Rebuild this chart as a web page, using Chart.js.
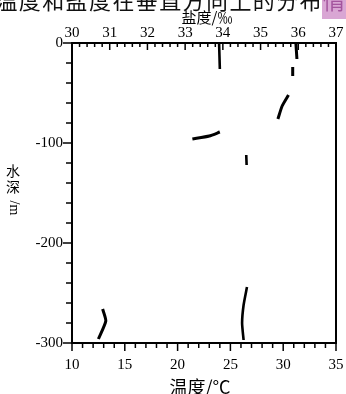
<!DOCTYPE html>
<html>
<head>
<meta charset="utf-8">
<script src="https://cdn.jsdelivr.net/npm/chart.js@4.4.0/dist/chart.umd.min.js"></script>
<style>
html,body{margin:0;padding:0;background:#fff}
#wrap{width:346px;height:394px;position:relative}
</style>
</head>
<body>
<div id="wrap"><canvas id="profileChart"></canvas></div>
<script>
// visible pieces of the two profiles, null = gap in the printed curve
const tempDepth=[0,-16,null,-24,-33,null,-52,-63,-76,null,-89,-93,-96,null,-266,-278,-296];
const tempValue=[31.2,31.3,null,30.9,30.9,null,30.5,29.9,29.5,null,24.0,23.0,21.4,null,12.9,13.2,12.5];

const salDepth=[0,-26,null,-112,-122,null,-244,-262,-280,-297];
const salValue=[33.90,33.92,null,34.62,34.63,null,34.64,34.55,34.51,34.55];

const depthTicks=[0,-100,-200,-300];
const salTicks=[30,31,32,33,34,35,36,37];
const tempTicks=[10,15,20,25,30,35];

const serif='"Liberation Serif", "Times New Roman", serif';
const cjk='"Noto Sans CJK SC", sans-serif';

function pts(xs,ys){
  return xs.map((v,i)=>v===null?{x:null,y:null}:{x:v,y:ys[i]});
}

const marks={
  id:'marks',
  afterDraw(chart){
    const {ctx,chartArea:a,scales}=chart;
    const line=(x1,y1,x2,y2)=>{ctx.beginPath();ctx.moveTo(x1,y1);ctx.lineTo(x2,y2);ctx.stroke();};
    ctx.save();
    ctx.strokeStyle='#000';
    ctx.lineWidth=1.5;
    for(let v=0;v>=-300;v-=20){
      const y=scales.y.getPixelForValue(v);
      line(a.left-(v%100===0?9:6),y,a.left,y);
    }
    for(let i=0;i<=35;i++){
      const x=scales.xS.getPixelForValue(30+i*0.2);
      line(x,a.top,x,a.top+(i%5===0?7:4));
    }
    for(let v=10;v<=35;v++){
      const x=scales.xT.getPixelForValue(v);
      line(x,a.bottom,x,a.bottom+(v%5===0?8:5));
    }
    ctx.lineWidth=2;
    line(a.right,a.top,a.right,a.bottom);

    // axis titles
    ctx.fillStyle='#000';
    ctx.textAlign='center';
    ctx.textBaseline='middle';
    ctx.font='15px '+cjk;
    ctx.fillText('盐度/‰',207,17);
    ctx.font='18px '+cjk;
    ctx.textBaseline='top';
    ctx.fillText('温度/°C',200,378);
    ctx.textBaseline='middle';
    ctx.font='14px '+cjk;
    ctx.fillText('水',13,171);
    ctx.fillText('深',13,187);
    ctx.save();
    ctx.translate(14,208);
    ctx.rotate(Math.PI/2);
    ctx.font='14px '+serif;
    ctx.fillText('/m',0,0);
    ctx.restore();

    // cut-off caption at the top of the scan
    ctx.fillStyle='#d9a6d4';
    ctx.fillRect(322,0,24,19);
    const cap='温度和盐度在垂直方向上的分布情';
    ctx.font='22px '+cjk;
    for(let i=0;i<cap.length;i++){
      ctx.fillStyle=i===cap.length-1?'#a4559e':'#111';
      ctx.fillText(cap[i],334-(cap.length-1-i)*23.4,1);
    }
    ctx.restore();
  }
};

const fitX=h=>s=>{s.height=h;s.paddingLeft=0;s.paddingRight=10;};

new Chart(document.getElementById('profileChart'),{
  type:'scatter',
  data:{
    datasets:[
      {
        label:'温度',
        data:pts(tempValue,tempDepth),
        xAxisID:'xT',
        yAxisID:'y',
        showLine:true,
        spanGaps:false,
        borderColor:'#000',
        borderWidth:3,
        pointRadius:0,
        tension:0.2
      },
      {
        label:'盐度',
        data:pts(salValue,salDepth),
        xAxisID:'xS',
        yAxisID:'y',
        showLine:true,
        spanGaps:false,
        borderColor:'#000',
        borderWidth:2.6,
        pointRadius:0,
        tension:0.2
      }
    ]
  },
  options:{
    responsive:true,
    maintainAspectRatio:false,
    animation:false,
    layout:{padding:0},
    plugins:{legend:{display:false},tooltip:{enabled:false}},
    scales:{
      y:{
        type:'linear',
        position:'left',
        min:-300,
        max:0,
        afterBuildTicks:s=>{s.ticks=depthTicks.map(v=>({value:v}));},
        afterFit:s=>{s.width=72;},
        ticks:{color:'#000',padding:9,font:{family:serif,size:15}},
        grid:{display:false,drawTicks:false},
        border:{display:true,color:'#000',width:2}
      },
      xS:{
        type:'linear',
        position:'top',
        min:30,
        max:37,
        afterBuildTicks:s=>{s.ticks=salTicks.map(v=>({value:v}));},
        afterFit:fitX(43),
        ticks:{color:'#000',padding:1,maxRotation:0,font:{family:serif,size:15}},
        grid:{display:false,drawTicks:false},
        border:{display:true,color:'#000',width:2}
      },
      xT:{
        type:'linear',
        position:'bottom',
        min:10,
        max:35,
        afterBuildTicks:s=>{s.ticks=tempTicks.map(v=>({value:v}));},
        afterFit:fitX(51),
        ticks:{color:'#000',padding:13,maxRotation:0,font:{family:serif,size:15}},
        grid:{display:false,drawTicks:false},
        border:{display:true,color:'#000',width:2}
      }
    }
  },
  plugins:[marks]
});
</script>
</body>
</html>
